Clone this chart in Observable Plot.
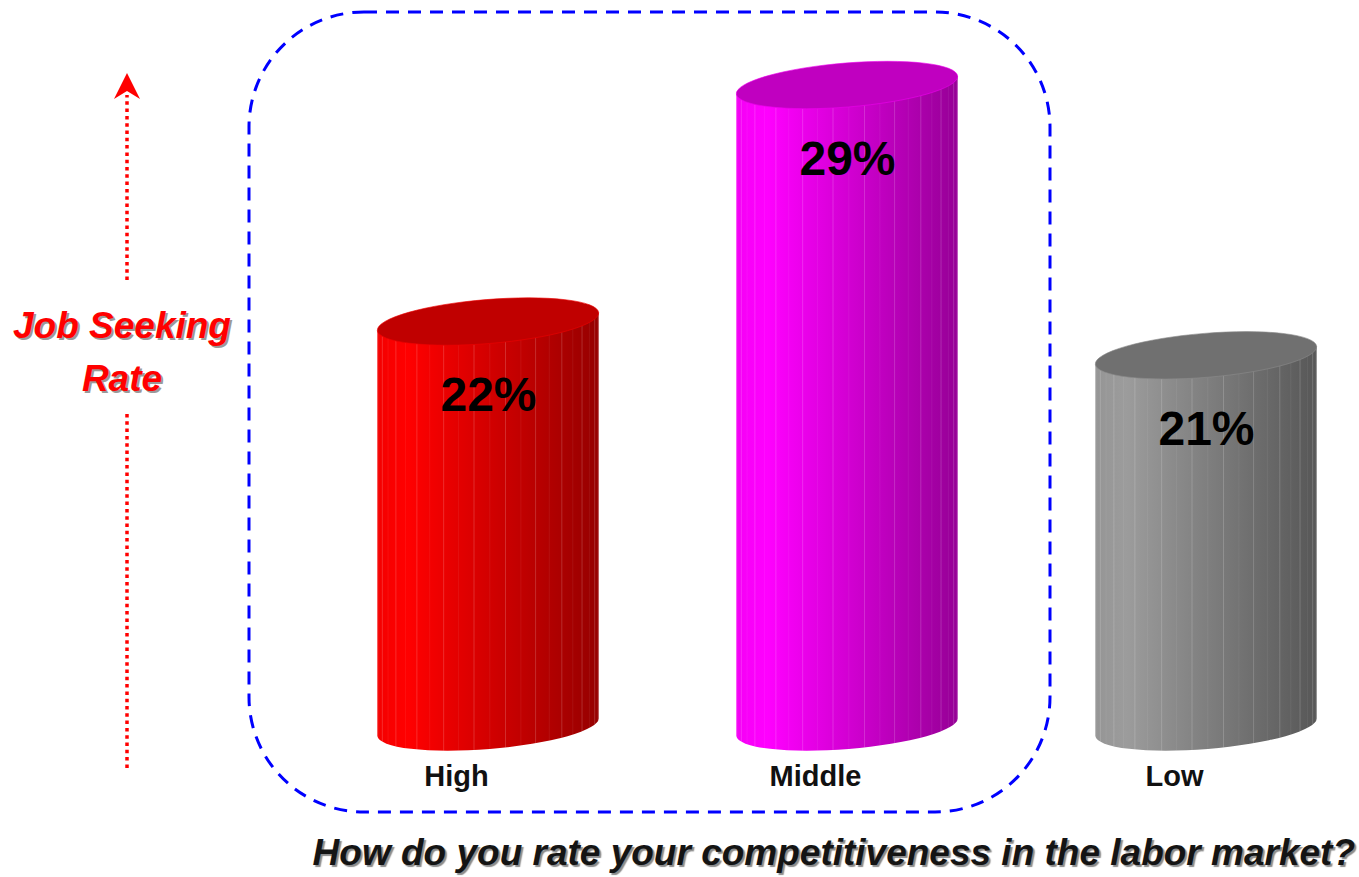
<!DOCTYPE html>
<html>
<head>
<meta charset="utf-8">
<script src="https://cdn.jsdelivr.net/npm/d3@7"></script>
<script src="https://cdn.jsdelivr.net/npm/@observablehq/plot@0.6"></script>
<style>
  html, body { margin: 0; padding: 0; background: #fff; }
  #chart { width: 1359px; height: 877px; overflow: hidden; }
  #chart svg { display: block; font-family: "Liberation Sans", Arial, sans-serif; }
  #chart svg [aria-label="x-axis tick label"] text { font-weight: bold; font-size: 29px; fill: #111; }
  .caption {
    height: 45px; line-height: 45px; text-align: right; padding-right: 4px;
    font: italic bold 37px "Liberation Sans", Arial, sans-serif; color: #141414;
    text-shadow: 2px 2px 1px #8c8c8c; white-space: nowrap;
  }
</style>
</head>
<body>
<div id="chart"></div>
<script>
// ---- data ----
const categories = ["High", "Middle", "Low"];
const values = [22, 29, 21];
const valueLabels = ["22%", "29%", "21%"];
const baseValue = 10;
const sideLight = ["#ff0000", "#ff00ff", "#9c9c9c"];
const sideDark = ["#960000", "#960096", "#575757"];
const topColors = ["#c00000", "#c000c0", "#707070"];
const highlighted = ["High", "Middle"];
const yAxisTitle = ["Job Seeking", "Rate"];
const chartTitle = "How do you rate your competitiveness in the labor market?";

const data = categories.map((c, i) => ({category: c, value: values[i], label: valueLabels[i]}));

const W = 1359, H = 832;
const PAD_INNER = 0.3816;

function bandGeom(x) {
  const raw = typeof x.bandwidth === "function" ? x.bandwidth() : (+x.bandwidth || 0);
  const step = x(categories[1]) - x(categories[0]);
  const bw = step * (1 - PAD_INNER);
  return {center: c => x(c) + raw / 2, bw};
}

function cylinders(index, scales) {
  const x = scales.x, y = scales.y;
  const {center, bw} = bandGeom(x);
  const g = d3.create("svg:g");
  const defs = g.append("defs");
  const rx = bw / 2, ry = 22, tilt = 9;
  const theta = -Math.atan2(tilt, rx);
  const thetaDeg = theta * 180 / Math.PI;
  const ex = rx * Math.cos(theta), ey = rx * Math.sin(theta); // ey negative
  data.forEach((d, i) => {
    const cx = center(d.category);
    const yTop = y(d.value), yBot = y(baseValue);
    const gid = "cylgrad" + i;
    const grad = defs.append("linearGradient").attr("id", gid)
      .attr("gradientUnits", "userSpaceOnUse")
      .attr("x1", cx - rx).attr("x2", cx + rx).attr("y1", 0).attr("y2", 0);
    const c0 = d3.color(sideLight[i]);
    grad.append("stop").attr("offset", 0).attr("stop-color", c0.darker(0.12));
    grad.append("stop").attr("offset", 0.14).attr("stop-color", sideLight[i]);
    grad.append("stop").attr("offset", 1).attr("stop-color", sideDark[i]);
    // body
    const path = `M${cx - ex},${yTop - ey} L${cx - ex},${yBot - ey} ` +
      `A${rx},${ry} ${thetaDeg} 0 0 ${cx + ex},${yBot + ey} L${cx + ex},${yTop + ey} Z`;
    g.append("path").attr("d", path).attr("fill", `url(#${gid})`);
    // facet lines
    const n = 22;
    for (let k = 1; k < n; k++) {
      const phi = Math.PI - k * Math.PI / n;
      const px = rx * Math.cos(phi), py = ry * Math.sin(phi);
      const lx = cx + px * Math.cos(theta) - py * Math.sin(theta);
      const ly0 = px * Math.sin(theta) + py * Math.cos(theta);
      g.append("line")
        .attr("x1", lx).attr("x2", lx)
        .attr("y1", yTop + ly0).attr("y2", yBot + ly0)
        .attr("stroke", "#fff").attr("stroke-opacity", k % 2 === 0 ? 0.22 : 0.08)
        .attr("stroke-width", 0.8);
    }
    // top
    g.append("ellipse").attr("cx", cx).attr("cy", yTop).attr("rx", rx).attr("ry", ry)
      .attr("transform", `rotate(${thetaDeg},${cx},${yTop})`)
      .attr("fill", topColors[i]).attr("stroke", d3.color(topColors[i]).brighter(0.6)).attr("stroke-width", 0.6);
  });
  return g.node();
}

function decorations(index, scales) {
  const x = scales.x;
  const {center, bw} = bandGeom(x);
  const g = d3.create("svg:g");
  // dashed rounded frame around highlighted groups
  const left = center(highlighted[0]) - bw / 2 - 128, right = center(highlighted[1]) + bw / 2 + 92;
  g.append("rect").attr("x", left).attr("y", 12).attr("width", right - left).attr("height", 800)
    .attr("rx", 115).attr("ry", 115)
    .attr("fill", "none").attr("stroke", "#0000ff").attr("stroke-width", 3)
    .attr("stroke-dasharray", "13 9");
  // red dotted arrow
  const ax = 127;
  g.append("line").attr("x1", ax).attr("x2", ax).attr("y1", 280).attr("y2", 95)
    .attr("stroke", "#ff0000").attr("stroke-width", 3.5).attr("stroke-dasharray", "3.5 3.8");
  g.append("line").attr("x1", ax).attr("x2", ax).attr("y1", 414).attr("y2", 770)
    .attr("stroke", "#ff0000").attr("stroke-width", 3.5).attr("stroke-dasharray", "3.5 3.8");
  g.append("path").attr("d", `M${ax},73 L${ax + 13},99 L${ax},91 L${ax - 13},99 Z`).attr("fill", "#ff0000");
  // red axis title with shadow
  const tx = 122;
  yAxisTitle.forEach((t, k) => {
    const ty = 338 + k * 53;
    g.append("text").attr("x", tx + 2).attr("y", ty + 2).attr("text-anchor", "middle")
      .attr("font-size", 37).attr("font-weight", "bold").attr("font-style", "italic")
      .attr("fill", "#9a9a9a").text(t);
    g.append("text").attr("x", tx).attr("y", ty).attr("text-anchor", "middle")
      .attr("font-size", 37).attr("font-weight", "bold").attr("font-style", "italic")
      .attr("fill", "#ff0000").text(t);
  });
  return g.node();
}

const chart = Plot.plot({
  width: W,
  height: H,
  marginBottom: 77,
  x: {domain: categories, range: [308.5, 1385.5], paddingInner: PAD_INNER, paddingOuter: 0.1908, label: null},
  y: {domain: [baseValue, 29], range: [727, 85], axis: null},
  marks: [
    decorations,
    cylinders,
    Plot.axisX({tickSize: 0, tickPadding: 10, dx: -32, label: null}),
    Plot.text(data, {x: "category", y: "value", text: "label", dy: 74,
      fontSize: 48, fontWeight: "bold", fill: "#000"})
  ]
});

const root = document.getElementById("chart");
root.appendChild(chart);
const cap = document.createElement("div");
cap.className = "caption";
cap.textContent = chartTitle;
root.appendChild(cap);
</script>
</body>
</html>
